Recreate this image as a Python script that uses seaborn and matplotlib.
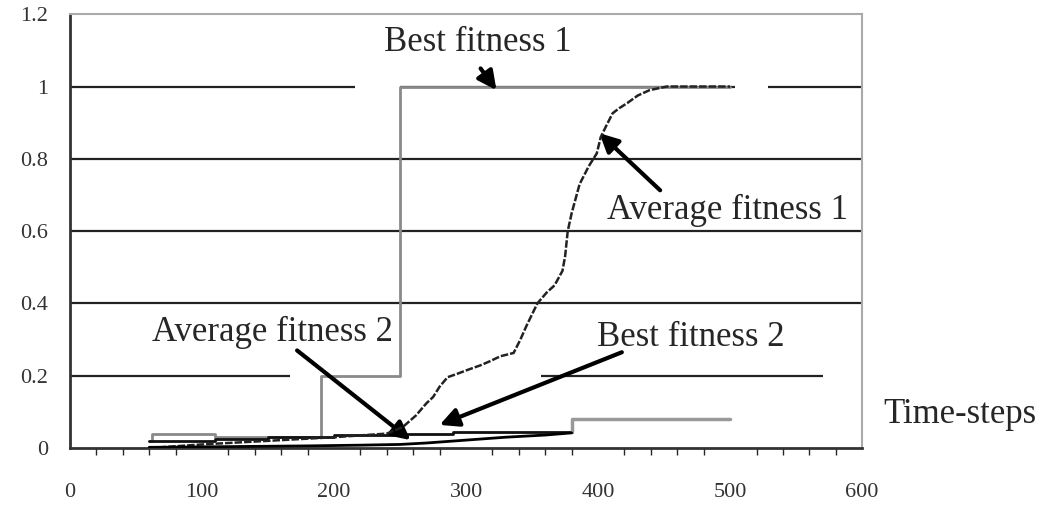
import seaborn as sns
import matplotlib
import matplotlib.pyplot as plt
import pandas as pd
import numpy as np

matplotlib.use("Agg")

# values
best1_x = [60, 62, 110, 190, 250, 500]
best1_y = [0.02, 0.04, 0.03, 0.2, 1.0, 1.0]

best2_low_x = [60, 110, 150, 200, 250, 290, 380]
best2_low_y = [0.02, 0.025, 0.03, 0.035, 0.04, 0.045, 0.045]
best2_high_x = [380, 380, 500]
best2_high_y = [0.045, 0.08, 0.08]

avg1_x = [60, 100, 150, 200, 240, 252, 262, 270, 275, 280, 286, 293, 301, 311, 318,
          326, 336, 341, 346, 350, 354, 361, 367, 373, 375, 377, 380, 386, 393,
          399, 402, 406, 411, 416, 422, 430, 439, 452, 500]
avg1_y = [0.0, 0.01, 0.02, 0.03, 0.04, 0.058, 0.09, 0.124, 0.141, 0.17, 0.196, 0.205,
          0.216, 0.229, 0.24, 0.254, 0.263, 0.299, 0.34, 0.37, 0.40, 0.43, 0.45,
          0.49, 0.53, 0.60, 0.65, 0.73, 0.78, 0.815, 0.86, 0.89, 0.926, 0.94,
          0.954, 0.975, 0.99, 1.0, 1.0]

avg2_x = [60, 120, 180, 220, 250, 270, 300, 330, 360, 380]
avg2_y = [0.002, 0.004, 0.006, 0.008, 0.01, 0.014, 0.022, 0.03, 0.036, 0.042]

x_ticks = [0, 100, 200, 300, 400, 500, 600]
y_ticks = [0, 0.2, 0.4, 0.6, 0.8, 1.0, 1.2]
y_labels = ["0", "0.2", "0.4", "0.6", "0.8", "1", "1.2"]

# grid segments (y, x0, x1) - the original has a few gaps
grid_segs = [(0.2, 0, 167), (0.2, 357, 570), (0.4, 0, 600), (0.6, 0, 600),
             (0.8, 0, 600), (1.0, 0, 216), (1.0, 250, 504), (1.0, 529, 600)]

sns.set_style("white")
plt.rcParams["font.family"] = ["Liberation Serif", "DejaVu Serif"]

fig = plt.figure(figsize=(10.45, 5.08), dpi=100)
ax = fig.add_axes([0.067, 0.118, 0.758, 0.854])

for y, x0, x1 in grid_segs:
    ax.hlines(y, x0, x1, color="#222222", lw=1.6, zorder=1)

sns.lineplot(x=best1_x, y=best1_y, ax=ax, color="#8a8a8a", lw=2,
             drawstyle="steps-post", estimator=None, sort=False, zorder=3)
sns.lineplot(x=best2_low_x, y=best2_low_y, ax=ax, color="#111111", lw=2,
             drawstyle="steps-post", estimator=None, sort=False, zorder=3)
sns.lineplot(x=best2_high_x, y=best2_high_y, ax=ax, color="#999999", lw=2.5,
             estimator=None, sort=False, zorder=3)
sns.lineplot(x=avg1_x, y=avg1_y, ax=ax, color="#222222", lw=1.8,
             linestyle=(0, (3, 0.8)), estimator=None, sort=False, zorder=4)
sns.lineplot(x=avg2_x, y=avg2_y, ax=ax, color="#000000", lw=2,
             estimator=None, sort=False, zorder=4)

ax.set_xlim(0, 600)
ax.set_ylim(0, 1.2)
ax.set_xticks(x_ticks)
ax.set_xticks(np.arange(0, 601, 20), minor=True)
ax.set_yticks(y_ticks)
ax.set_yticklabels(y_labels)
ax.tick_params(axis="x", which="major", direction="inout", length=10, width=1.5,
               pad=20, labelsize=16, labelcolor="#333333")
ax.tick_params(axis="x", which="minor", direction="out", length=5, width=1, bottom=True)
ax.tick_params(axis="y", which="major", direction="in", length=0, pad=16,
               labelsize=16, labelcolor="#333333")

for s in ["left", "bottom"]:
    ax.spines[s].set_color("#333333")
    ax.spines[s].set_linewidth(2)
for s in ["top", "right"]:
    ax.spines[s].set_color("#aaaaaa")
    ax.spines[s].set_linewidth(1.5)

arrow = dict(arrowstyle="-|>", lw=3, color="black", mutation_scale=28,
             shrinkA=0, shrinkB=0)
fs = 25
ax.text(309, 1.122, "Best fitness 1", fontsize=fs, ha="center", va="center")
ax.annotate("", xy=(323, 0.99), xytext=(311, 1.05), arrowprops=arrow)
ax.text(498, 0.658, "Average fitness 1", fontsize=fs, ha="center", va="center")
ax.annotate("", xy=(401, 0.871), xytext=(447, 0.713), arrowprops=arrow)
ax.text(153, 0.32, "Average fitness 2", fontsize=fs, ha="center", va="center")
ax.annotate("", xy=(258, 0.022), xytext=(172, 0.27), arrowprops=arrow)
ax.text(470, 0.307, "Best fitness 2", fontsize=fs, ha="center", va="center")
ax.annotate("", xy=(280, 0.064), xytext=(418, 0.265), arrowprops=arrow)
ax.text(674, 0.094, "Time-steps", fontsize=fs, ha="center", va="center", clip_on=False)

ax.set_xlabel("")
ax.set_ylabel("")
fig.savefig("out.png", dpi=100)
